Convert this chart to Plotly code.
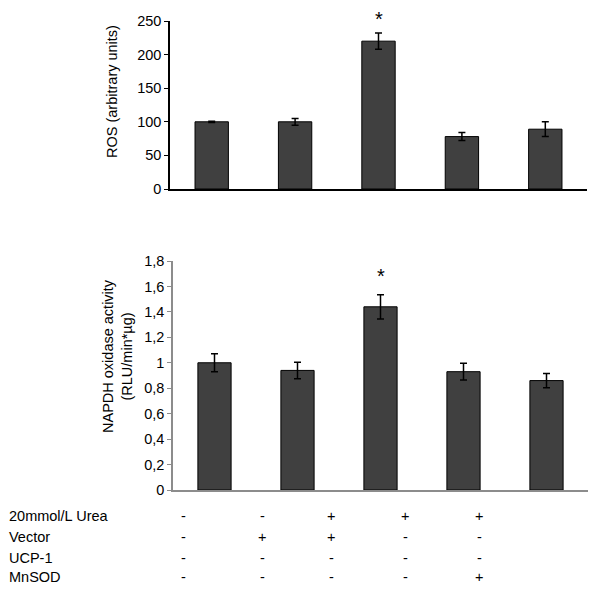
import plotly.graph_objects as go

categories = ["A", "B", "C", "D", "E"]
ros_values = [100, 100, 220, 78, 89]
ros_errors = [1, 5, 12, 6, 11]
nadph_values = [1.0, 0.94, 1.44, 0.93, 0.86]
nadph_errors = [0.07, 0.065, 0.095, 0.066, 0.056]
nadph_tickvals = [0, 0.2, 0.4, 0.6, 0.8, 1.0, 1.2, 1.4, 1.6, 1.8]
nadph_ticktext = ["0", "0,2", "0,4", "0,6", "0,8", "1", "1,2", "1,4", "1,6", "1,8"]
ros_tickvals = [0, 50, 100, 150, 200, 250]
row_labels = ["20mmol/L Urea", "Vector", "UCP-1", "MnSOD"]
table_signs = [
    ["-", "-", "+", "+", "+"],
    ["-", "+", "+", "-", "-"],
    ["-", "-", "-", "-", "-"],
    ["-", "-", "-", "-", "+"],
]
sig_index = 2

W, H = 600, 593
FONT = "Arial, Liberation Sans, sans-serif"
BAR = "#404040"
FS = 14.5

fig = go.Figure()
fig.add_trace(go.Bar(x=categories, y=ros_values, xaxis="x", yaxis="y",
                     marker=dict(color=BAR, line=dict(color="black", width=1)),
                     error_y=dict(type="data", array=ros_errors, color="black", thickness=1.5, width=3.5),
                     showlegend=False))
fig.add_trace(go.Bar(x=categories, y=nadph_values, xaxis="x2", yaxis="y2",
                     marker=dict(color=BAR, line=dict(color="black", width=1)),
                     error_y=dict(type="data", array=nadph_errors, color="black", thickness=1.5, width=3.5),
                     showlegend=False))

def px_x(p):
    return p / W

def px_y(p):
    return 1 - p / H

tickfont = dict(family=FONT, size=FS, color="black")
fig.update_layout(
    width=W, height=H, margin=dict(l=0, r=0, t=0, b=0, autoexpand=False),
    plot_bgcolor="white", paper_bgcolor="white", bargap=0.6,
    font=dict(family=FONT, size=FS, color="black"),
    xaxis=dict(domain=[px_x(170), px_x(587)], anchor="y", showticklabels=False, automargin=False,
               showline=True, linecolor="black", linewidth=1.5, ticks="", showgrid=False),
    yaxis=dict(domain=[px_y(189), px_y(21)], anchor="x", range=[0, 250], automargin=False,
               tickvals=ros_tickvals, showline=True, linecolor="black", linewidth=1.5,
               ticks="outside", ticklen=4, tickcolor="black", showgrid=False, zeroline=False,
               tickfont=tickfont),
    xaxis2=dict(domain=[px_x(173), px_x(588)], anchor="y2", showticklabels=False, automargin=False,
                showline=True, linecolor="#8c8c8c", linewidth=1.5, ticks="", showgrid=False),
    yaxis2=dict(domain=[px_y(490), px_y(261)], anchor="x2", range=[0, 1.8], automargin=False,
                tickvals=nadph_tickvals, ticktext=nadph_ticktext, showline=True,
                linecolor="#8c8c8c", linewidth=1.5, ticks="outside", ticklen=4,
                tickcolor="#8c8c8c", showgrid=False, zeroline=False, tickfont=tickfont),
)

def note(text, x, y, xref="paper", yref="paper", xanchor="center", size=FS, angle=0):
    return dict(text=text, x=x, y=y, xref=xref, yref=yref, xanchor=xanchor, yanchor="middle",
                textangle=angle, showarrow=False, font=dict(size=size))

ann = []
ann.append(note("ROS (arbitrary units)", px_x(112), px_y(92), angle=-90))
ann.append(note("NAPDH oxidase activity<br>(RLU/min*µg)", px_x(117), px_y(356), angle=-90))
ann.append(note("*", categories[sig_index], px_y(19), xref="x", size=20))
ann.append(note("*", categories[sig_index], px_y(276), xref="x2", size=20))

row_y = [516, 537, 558, 577]
col_x = [183, 262, 331, 405, 479]
for r, lab in enumerate(row_labels):
    ann.append(note(lab, px_x(7), px_y(row_y[r]), xanchor="left"))
    for c, s in enumerate(table_signs[r]):
        ann.append(note(s, px_x(col_x[c]), px_y(row_y[r])))
fig.update_layout(annotations=ann)

fig.write_html("out.html", config={"displayModeBar": False},
               post_script="document.body.style.margin='0';")
